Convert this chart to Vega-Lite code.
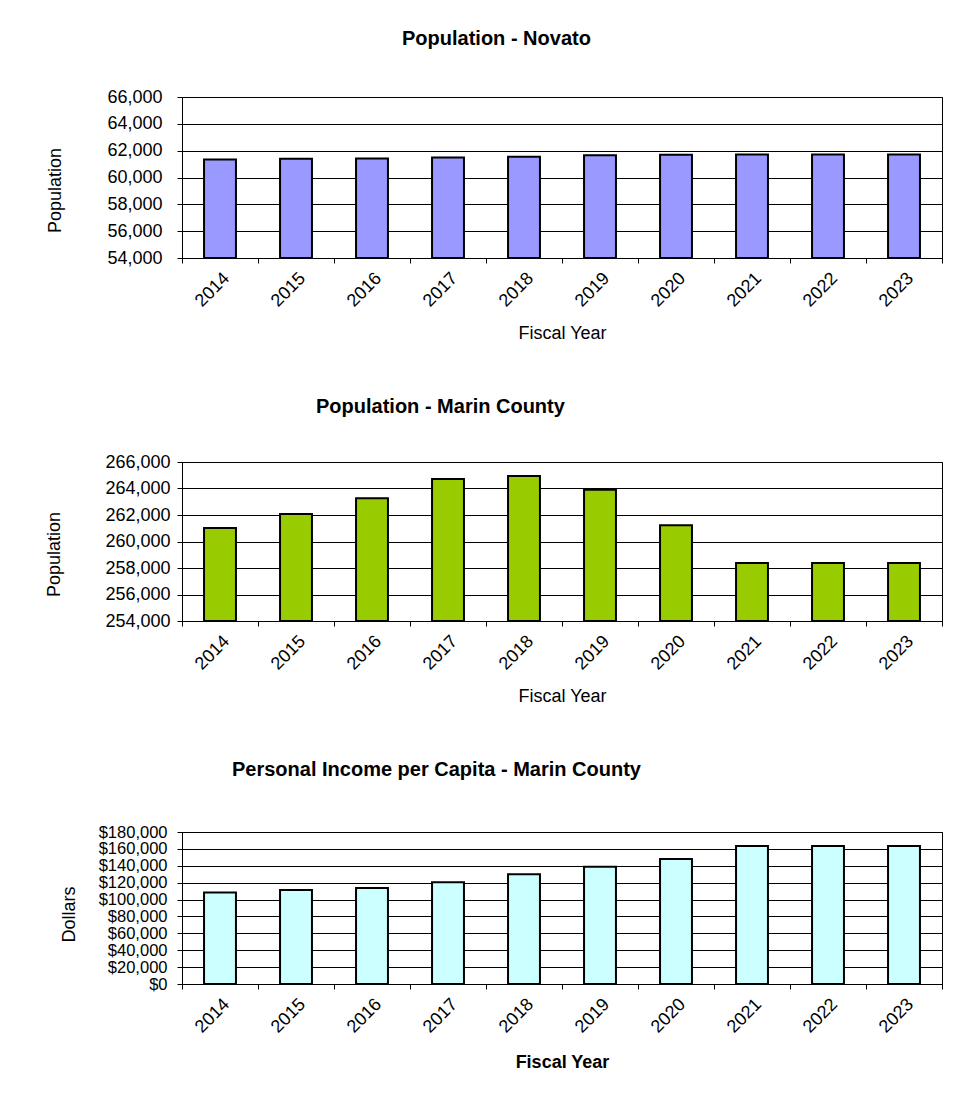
{
  "$schema": "https://vega.github.io/schema/vega-lite/v6.json",
  "background": "white",
  "padding": {"left": 44, "top": 28, "right": 10, "bottom": 10},
  "spacing": 53,
  "data": {
    "values": [
      {"year": 2014, "novato": 61340, "marin": 261020, "income": 108500},
      {"year": 2015, "novato": 61390, "marin": 262080, "income": 111300},
      {"year": 2016, "novato": 61420, "marin": 263260, "income": 113700},
      {"year": 2017, "novato": 61490, "marin": 264720, "income": 120400},
      {"year": 2018, "novato": 61540, "marin": 264940, "income": 129900},
      {"year": 2019, "novato": 61660, "marin": 263910, "income": 138900},
      {"year": 2020, "novato": 61690, "marin": 261220, "income": 148000},
      {"year": 2021, "novato": 61710, "marin": 258380, "income": 163400},
      {"year": 2022, "novato": 61720, "marin": 258380, "income": 163400},
      {"year": 2023, "novato": 61710, "marin": 258380, "income": 163400}
    ]
  },
  "config": {
    "font": "Liberation Sans",
    "view": {"stroke": "black", "strokeWidth": 1},
    "title": {"font": "Liberation Sans", "fontSize": 20, "fontWeight": "bold", "color": "black", "anchor": "start", "frame": "group"},
    "axis": {
      "labelFont": "Liberation Sans",
      "titleFont": "Liberation Sans",
      "labelFontSize": 18,
      "titleFontSize": 18,
      "titleFontWeight": "normal",
      "labelColor": "black",
      "titleColor": "black",
      "domainColor": "black",
      "tickColor": "black",
      "gridColor": "black",
      "gridWidth": 1,
      "tickSize": 5,
      "labelOverlap": false,
      "titleBaseline": "alphabetic"
    },
    "axisX": {"labelAngle": -45, "labelAlign": "right", "labelBaseline": "top", "labelPadding": 6, "tickBand": "extent", "grid": false, "titleY": 80},
    "axisY": {"labelPadding": 10, "grid": true}
  },
  "vconcat": [
    {
      "width": 760,
      "height": 161,
      "title": {"text": "Population - Novato", "dx": 220, "offset": 39},
      "mark": {"type": "bar", "fill": "#9999FF", "stroke": "black", "strokeWidth": 2, "width": {"band": 0.42}, "clip": true},
      "encoding": {
        "x": {"field": "year", "type": "ordinal", "scale": {"paddingInner": 0, "paddingOuter": 0}, "axis": {"title": "Fiscal Year"}},
        "y": {"field": "novato", "type": "quantitative", "scale": {"domain": [54000, 66000], "zero": false, "nice": false},
              "axis": {"title": "Population", "values": [54000, 56000, 58000, 60000, 62000, 64000, 66000], "format": ",d", "labelPadding": 15, "titleX": -122, "titleY": 93}},
        "y2": {"datum": 54000}
      }
    },
    {
      "width": 760,
      "height": 159,
      "title": {"text": "Population - Marin County", "dx": 134, "offset": 36},
      "mark": {"type": "bar", "fill": "#99CC00", "stroke": "black", "strokeWidth": 2, "width": {"band": 0.42}, "clip": true},
      "encoding": {
        "x": {"field": "year", "type": "ordinal", "scale": {"paddingInner": 0, "paddingOuter": 0}, "axis": {"title": "Fiscal Year"}},
        "y": {"field": "marin", "type": "quantitative", "scale": {"domain": [254000, 266000], "zero": false, "nice": false},
              "axis": {"title": "Population", "values": [254000, 256000, 258000, 260000, 262000, 264000, 266000], "format": ",d", "labelPadding": 7, "titleX": -123, "titleY": 92}},
        "y2": {"datum": 254000}
      }
    },
    {
      "width": 760,
      "height": 152,
      "title": {"text": "Personal Income per Capita - Marin County", "dx": 50, "offset": 44},
      "mark": {"type": "bar", "fill": "#CCFFFF", "stroke": "black", "strokeWidth": 2, "width": {"band": 0.42}},
      "encoding": {
        "x": {"field": "year", "type": "ordinal", "scale": {"paddingInner": 0, "paddingOuter": 0}, "axis": {"title": "Fiscal Year", "titleFontWeight": "bold", "titleY": 83}},
        "y": {"field": "income", "type": "quantitative", "scale": {"domain": [0, 180000], "nice": false},
              "axis": {"title": "Dollars", "values": [0, 20000, 40000, 60000, 80000, 100000, 120000, 140000, 160000, 180000], "format": "$,d", "labelFontSize": 16.5, "labelPadding": 10, "titleX": -108, "titleY": 82}}
      }
    }
  ]
}
